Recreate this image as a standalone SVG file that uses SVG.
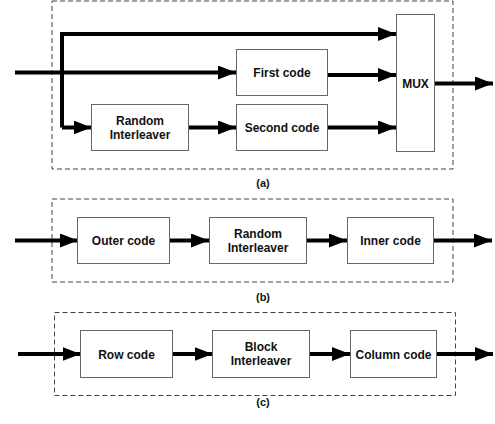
<svg xmlns="http://www.w3.org/2000/svg" width="495" height="424" viewBox="0 0 495 424">
<defs>
<marker id="ah" markerUnits="userSpaceOnUse" markerWidth="20" markerHeight="14" refX="18" refY="7" orient="auto">
<polygon points="0,0 18,7 0,14" fill="#000"/>
</marker>
<style>
.frame{fill:none;stroke:#444;stroke-width:1;stroke-dasharray:5,3}
.box{fill:#fff;stroke:#666;stroke-width:1}
.lbl{font-family:"Liberation Sans",Arial,sans-serif;font-weight:bold;font-size:12px;fill:#111;text-anchor:middle}
.cap{font-family:"Liberation Sans",Arial,sans-serif;font-weight:bold;font-size:11px;fill:#111;text-anchor:middle}
.w{fill:none;stroke:#000;stroke-width:4}
.a{fill:none;stroke:#000;stroke-width:4;marker-end:url(#ah)}
</style>
</defs>
<rect class="frame" x="52" y="1" width="401" height="168"/>
<rect class="frame" x="52" y="199" width="401" height="83"/>
<rect class="frame" x="54.5" y="312.5" width="401" height="83"/>
<g id="connectors">
<path class="a" d="M62,127.5 L62,34 L396,34"/>
<path class="a" d="M62,127.5 L91.5,127.5"/>
<path class="a" d="M15,72.5 L236,72.5"/>
<path class="a" d="M328,75 L396,75"/>
<path class="a" d="M189,127.5 L236,127.5"/>
<path class="a" d="M328,127.5 L396,127.5"/>
<path class="a" d="M434,83.5 L493,83.5"/>
<path class="a" d="M15,240.5 L78,240.5"/>
<path class="a" d="M169.5,240.5 L209,240.5"/>
<path class="a" d="M307,240.5 L347,240.5"/>
<path class="a" d="M433.5,240.5 L492,240.5"/>
<path class="a" d="M18,354 L80.5,354"/>
<path class="a" d="M172.5,354 L212.5,354"/>
<path class="a" d="M309.5,354 L350,354"/>
<path class="a" d="M437,354 L493,354"/>
</g>
<g id="first"><rect class="box" x="236.5" y="49.5" width="91" height="46"/><text class="lbl" x="282" y="77">First code</text></g>
<g id="second"><rect class="box" x="236.5" y="104.5" width="91" height="46"/><text class="lbl" x="282" y="132">Second code</text></g>
<g id="ri1"><rect class="box" x="91.5" y="104.5" width="97" height="46"/><text class="lbl" x="140" y="124.5">Random</text><text class="lbl" x="140" y="138.5">Interleaver</text></g>
<g id="mux"><rect class="box" x="396.5" y="14.5" width="38" height="137"/><text class="lbl" x="415.5" y="88">MUX</text></g>
<g id="outer"><rect class="box" x="77.5" y="217.5" width="92" height="46"/><text class="lbl" x="123.5" y="245">Outer code</text></g>
<g id="ri2"><rect class="box" x="209.5" y="217.5" width="97" height="46"/><text class="lbl" x="258" y="237.5">Random</text><text class="lbl" x="258" y="251.5">Interleaver</text></g>
<g id="inner"><rect class="box" x="347.5" y="217.5" width="86" height="46"/><text class="lbl" x="390.5" y="245">Inner code</text></g>
<g id="row"><rect class="box" x="80.5" y="330.5" width="92" height="47"/><text class="lbl" x="126.5" y="358.5">Row code</text></g>
<g id="bi"><rect class="box" x="212.5" y="330.5" width="97" height="47"/><text class="lbl" x="261" y="351">Block</text><text class="lbl" x="261" y="365">Interleaver</text></g>
<g id="col"><rect class="box" x="350.5" y="330.5" width="86" height="47"/><text class="lbl" x="393.5" y="358.5">Column code</text></g>
<text class="cap" x="263" y="187">(a)</text>
<text class="cap" x="263" y="301">(b)</text>
<text class="cap" x="263" y="406">(c)</text>
</svg>
